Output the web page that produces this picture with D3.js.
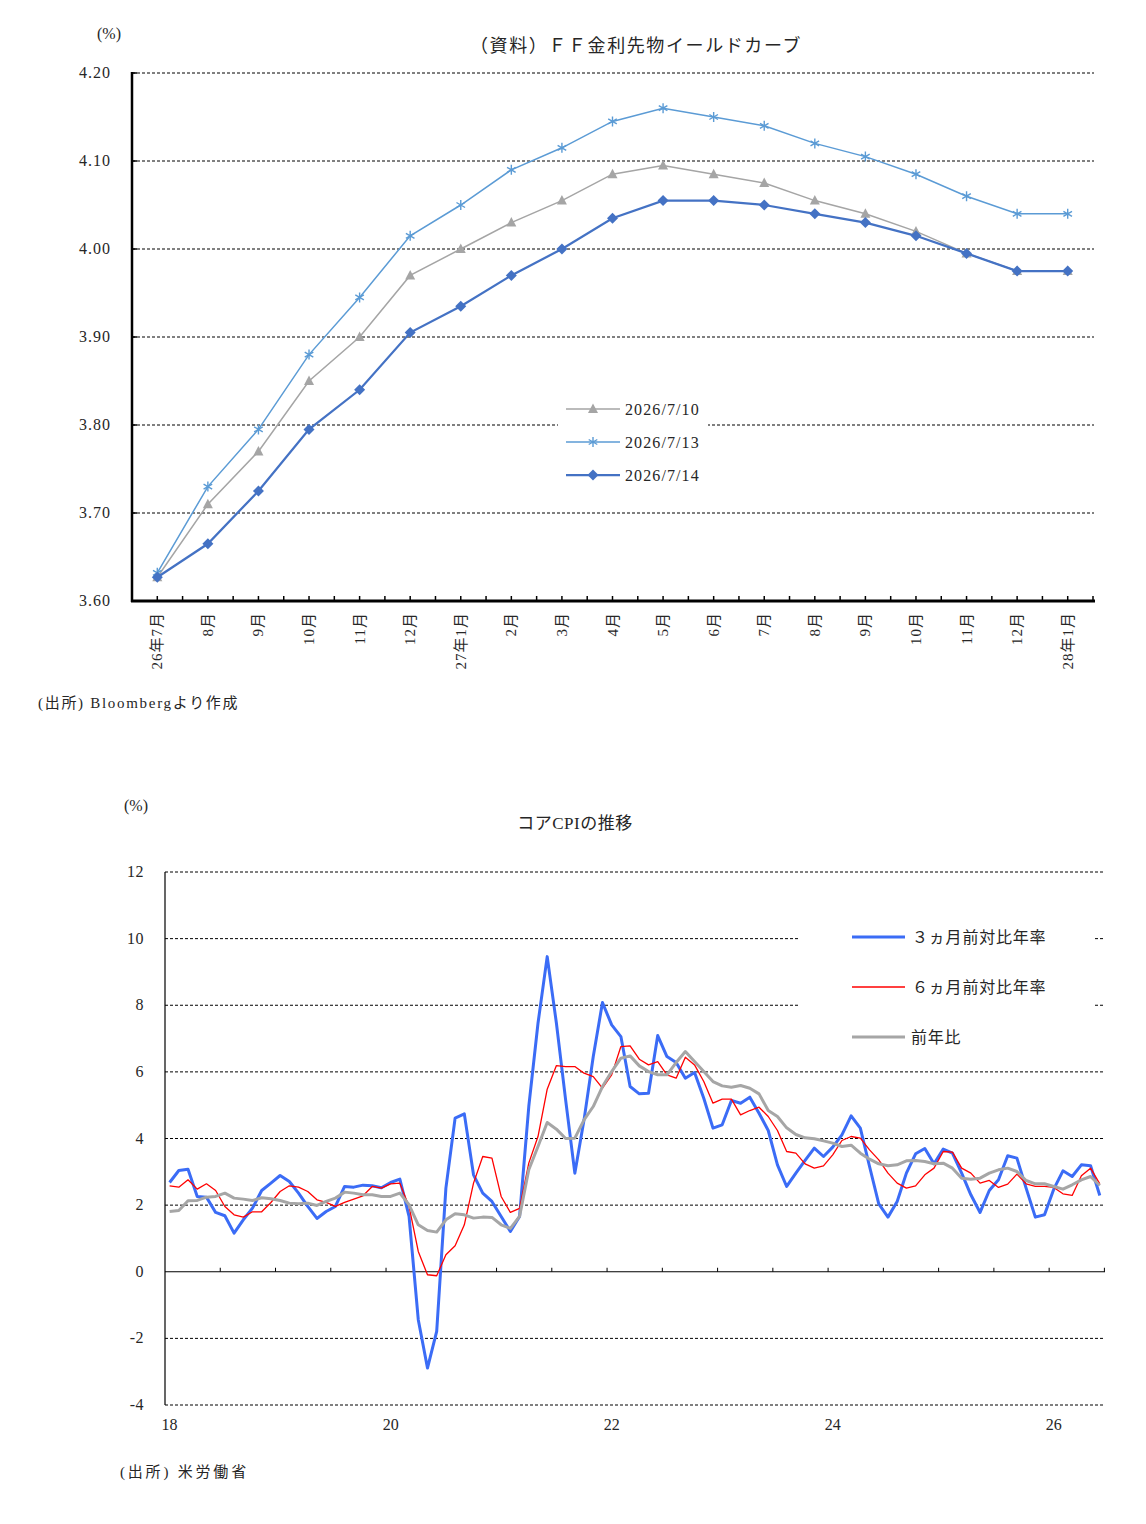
<!DOCTYPE html>
<html>
<head>
<meta charset="utf-8">
<script src="https://cdn.jsdelivr.net/npm/d3@7"></script>
<style>
  body { margin: 0; background: #fff; }
  text { font-family: "Liberation Serif", "Noto Sans CJK JP", serif; fill: #262626; }
</style>
</head>
<body>
<svg id="chart" width="1146" height="1524"></svg>
<script>
// ---- FF futures yield curve (top chart) ----
const futuresMonths = ["26年7月", "8月", "9月", "10月", "11月", "12月", "27年1月", "2月", "3月", "4月",
  "5月", "6月", "7月", "8月", "9月", "10月", "11月", "12月", "28年1月"];
const futures0710 = [3.627, 3.71, 3.77, 3.85, 3.90, 3.97, 4.00, 4.03, 4.055, 4.085,
  4.095, 4.085, 4.075, 4.055, 4.04, 4.02, 3.995, 3.975, 3.975];
const futures0713 = [3.632, 3.73, 3.795, 3.88, 3.945, 4.015, 4.05, 4.09, 4.115, 4.145,
  4.16, 4.15, 4.14, 4.12, 4.105, 4.085, 4.06, 4.04, 4.04];
const futures0714 = [3.627, 3.665, 3.725, 3.795, 3.84, 3.905, 3.935, 3.97, 4.00, 4.035,
  4.055, 4.055, 4.05, 4.04, 4.03, 4.015, 3.995, 3.975, 3.975];
const futuresTicks = [3.6, 3.7, 3.8, 3.9, 4.0, 4.1, 4.2];

// ---- Core CPI (bottom chart), monthly from 2018/01 ----
const cpiYearLabels = ["18", "20", "22", "24", "26"];
const cpi3m = [2.68, 3.04, 3.08, 2.26, 2.24, 1.78, 1.68, 1.16, 1.56, 1.91, 2.44, 2.66,
  2.89, 2.71, 2.36, 1.96, 1.6, 1.81, 1.96, 2.56, 2.54, 2.6, 2.58, 2.52,
  2.68, 2.78, 1.66, -1.44, -2.89, -1.79, 2.51, 4.61, 4.74, 2.91, 2.36, 2.11,
  1.66, 1.21, 1.66, 4.96, 7.46, 9.46, 7.46, 5.16, 2.96, 4.56, 6.46, 8.08,
  7.41, 7.06, 5.56, 5.34, 5.36, 7.09, 6.46, 6.28, 5.81, 5.98, 5.21, 4.31,
  4.41, 5.14, 5.06, 5.24, 4.76, 4.24, 3.21, 2.56, 2.96, 3.34, 3.71, 3.46,
  3.74, 4.11, 4.68, 4.31, 3.16, 2.04, 1.64, 2.11, 2.96, 3.54, 3.70, 3.24,
  3.68, 3.56, 2.96, 2.31, 1.78, 2.44, 2.76, 3.48, 3.41, 2.51, 1.64, 1.71,
  2.48, 3.03, 2.86, 3.21, 3.18, 2.29];
const cpi6m = [2.58, 2.54, 2.76, 2.48, 2.64, 2.44, 1.96, 1.71, 1.64, 1.8, 1.8, 2.08,
  2.41, 2.58, 2.54, 2.41, 2.16, 2.08, 1.96, 2.08, 2.18, 2.28, 2.56, 2.51,
  2.64, 2.66, 1.96, 0.61, -0.09, -0.12, 0.51, 0.78, 1.41, 2.66, 3.46, 3.41,
  2.26, 1.78, 1.9, 3.26, 4.06, 5.48, 6.19, 6.16, 6.16, 5.96, 5.86, 5.51,
  5.91, 6.76, 6.78, 6.38, 6.21, 6.31, 5.91, 5.81, 6.44, 6.21, 5.71, 5.06,
  5.18, 5.18, 4.71, 4.84, 4.94, 4.66, 4.24, 3.61, 3.56, 3.24, 3.11, 3.18,
  3.51, 3.94, 4.06, 4.01, 3.66, 3.36, 2.96, 2.66, 2.51, 2.58, 2.91, 3.11,
  3.61, 3.59, 3.11, 2.96, 2.66, 2.74, 2.53, 2.63, 2.93, 2.64, 2.56, 2.56,
  2.53, 2.34, 2.29, 2.88, 3.11, 2.64];
const cpiYoY = [1.81, 1.84, 2.13, 2.14, 2.24, 2.26, 2.36, 2.21, 2.18, 2.14, 2.22, 2.19,
  2.14, 2.06, 2.04, 2.06, 1.99, 2.11, 2.21, 2.39, 2.36, 2.31, 2.31, 2.26,
  2.26, 2.36, 2.01, 1.41, 1.24, 1.19, 1.56, 1.74, 1.71, 1.61, 1.64, 1.63,
  1.41, 1.3, 1.66, 3.06, 3.76, 4.48, 4.28, 4.0, 4.01, 4.56, 4.96, 5.56,
  6.01, 6.41, 6.48, 6.18, 6.01, 5.91, 5.91, 6.28, 6.61, 6.31, 6.01, 5.71,
  5.58, 5.54, 5.59, 5.51, 5.34, 4.84, 4.66, 4.32, 4.12, 4.02, 3.99, 3.93,
  3.86, 3.76, 3.8, 3.56, 3.38, 3.24, 3.18, 3.21, 3.33, 3.34, 3.31, 3.24,
  3.26, 3.11, 2.81, 2.78, 2.81, 2.96, 3.06, 3.11, 3.01, 2.74, 2.64, 2.64,
  2.56, 2.48, 2.61, 2.76, 2.86, 2.59];
const cpiTicks = [-4, -2, 0, 2, 4, 6, 8, 10, 12];

const svg = d3.select("#chart");
svg.append("rect").attr("width", 1146).attr("height", 1524).attr("fill", "#fff");

// =========================================================
// Top chart
// =========================================================
function drawFutures() {
  const g = svg.append("g");
  const x = d3.scaleBand().domain(d3.range(futuresMonths.length)).range([132, 1093]);
  const y = d3.scaleLinear().domain([3.6, 4.2]).range([601, 73]);
  const cx = (i) => x(i) + x.bandwidth() / 2;

  // dashed gridlines
  g.selectAll(".grid")
    .data(futuresTicks.filter((d) => d > 3.6))
    .join("line")
    .attr("x1", 132).attr("x2", 1094)
    .attr("y1", (d) => y(d)).attr("y2", (d) => y(d))
    .attr("stroke", "#000").attr("stroke-width", 1)
    .attr("stroke-dasharray", "3,2");

  // y tick labels
  g.selectAll(".ylab")
    .data(futuresTicks)
    .join("text")
    .attr("x", 111).attr("y", (d) => y(d) + 5)
    .attr("text-anchor", "end")
    .attr("font-size", 16)
    .attr("letter-spacing", 1)
    .text((d) => d3.format(".2f")(d));

  // inward y ticks
  g.selectAll(".ytick")
    .data(futuresTicks)
    .join("line")
    .attr("x1", 132).attr("x2", 137)
    .attr("y1", (d) => y(d)).attr("y2", (d) => y(d))
    .attr("stroke", "#000").attr("stroke-width", 1.5);

  // axes
  g.append("line").attr("x1", 132).attr("x2", 132).attr("y1", 72).attr("y2", 602)
    .attr("stroke", "#000").attr("stroke-width", 2.5);
  g.append("line").attr("x1", 131).attr("x2", 1095).attr("y1", 601).attr("y2", 601)
    .attr("stroke", "#000").attr("stroke-width", 3);

  // x ticks at every half month
  const half = x.bandwidth() / 2;
  g.selectAll(".xtick")
    .data(d3.range(1, futuresMonths.length * 2 + 1))
    .join("line")
    .attr("x1", (k) => 132 + k * half).attr("x2", (k) => 132 + k * half)
    .attr("y1", 596).attr("y2", 601)
    .attr("stroke", "#000").attr("stroke-width", 1.5);

  // rotated month labels
  g.selectAll(".xlab")
    .data(futuresMonths)
    .join("text")
    .attr("transform", (d, i) => `translate(${cx(i) + 5},612) rotate(-90)`)
    .attr("text-anchor", "end")
    .attr("font-size", 15)
    .attr("letter-spacing", 1)
    .text((d) => d);

  const line = d3.line().x((d, i) => cx(i)).y((d) => y(d));

  const series = [
    { name: "2026/7/10", values: futures0710, color: "#a5a5a5", width: 1.5, marker: "tri" },
    { name: "2026/7/13", values: futures0713, color: "#5b9bd5", width: 1.5, marker: "star" },
    { name: "2026/7/14", values: futures0714, color: "#4472c4", width: 2.25, marker: "dia" },
  ];

  const markerPath = {
    tri: "M0,-5.5L5,4L-5,4Z",
    dia: "M0,-5.5L5.5,0L0,5.5L-5.5,0Z",
    star: "M0,-5V5M-4.3,-2.5L4.3,2.5M-4.3,2.5L4.3,-2.5",
  };

  function drawMarker(sel, s, px, py) {
    const p = sel.append("path")
      .attr("transform", `translate(${px},${py})`)
      .attr("d", markerPath[s.marker]);
    if (s.marker === "star") {
      p.attr("fill", "none").attr("stroke", s.color).attr("stroke-width", 1.4);
    } else {
      p.attr("fill", s.color);
    }
  }

  series.forEach((s) => {
    g.append("path")
      .datum(s.values)
      .attr("d", line)
      .attr("fill", "none")
      .attr("stroke", s.color)
      .attr("stroke-width", s.width);
    s.values.forEach((v, i) => drawMarker(g, s, cx(i), y(v)));
  });

  // legend
  g.append("rect").attr("x", 558).attr("y", 395).attr("width", 150).attr("height", 95).attr("fill", "#fff");
  series.forEach((s, i) => {
    const ly = 409 + i * 33;
    g.append("line").attr("x1", 566).attr("x2", 620).attr("y1", ly).attr("y2", ly)
      .attr("stroke", s.color).attr("stroke-width", s.width);
    drawMarker(g, s, 593, ly);
    g.append("text").attr("x", 625).attr("y", ly + 6)
      .attr("font-size", 16).attr("letter-spacing", 1.1).text(s.name);
  });

  // titles
  g.append("text").attr("x", 109).attr("y", 39).attr("text-anchor", "middle")
    .attr("font-size", 16).text("(%)");
  g.append("text").attr("x", 636).attr("y", 52).attr("text-anchor", "middle")
    .attr("font-size", 18).attr("letter-spacing", 1.6)
    .text("（資料）ＦＦ金利先物イールドカーブ");
  g.append("text").attr("x", 38).attr("y", 708).attr("font-size", 15).attr("letter-spacing", 1.7)
    .text("(出所) Bloombergより作成");
}

// =========================================================
// Bottom chart
// =========================================================
function drawCpi() {
  const g = svg.append("g");
  const x = d3.scaleBand().domain(d3.range(cpi3m.length)).range([165, 1104.4]);
  const y = d3.scaleLinear().domain([-4, 12]).range([1405, 872]);
  const cx = (i) => x(i) + x.bandwidth() / 2;

  // dashed gridlines
  g.selectAll(".grid")
    .data(cpiTicks.filter((d) => d !== 0))
    .join("line")
    .attr("x1", 165).attr("x2", 1105)
    .attr("y1", (d) => y(d)).attr("y2", (d) => y(d))
    .attr("stroke", "#000").attr("stroke-width", 1)
    .attr("stroke-dasharray", "3,2");

  // zero line and left axis
  g.append("line").attr("x1", 165).attr("x2", 1105).attr("y1", y(0)).attr("y2", y(0))
    .attr("stroke", "#000").attr("stroke-width", 1.2);
  g.append("line").attr("x1", 165).attr("x2", 165).attr("y1", 872).attr("y2", 1405)
    .attr("stroke", "#000").attr("stroke-width", 1.2);

  // ticks every six months on the zero line
  g.selectAll(".xtick")
    .data(d3.range(6, cpi3m.length + 1, 6))
    .join("line")
    .attr("x1", (k) => 165 + k * x.step()).attr("x2", (k) => 165 + k * x.step())
    .attr("y1", y(0) - 4).attr("y2", y(0))
    .attr("stroke", "#000").attr("stroke-width", 1);

  // y labels
  g.selectAll(".ylab")
    .data(cpiTicks)
    .join("text")
    .attr("x", 144).attr("y", (d) => y(d) + 5)
    .attr("text-anchor", "end")
    .attr("font-size", 16)
    .attr("letter-spacing", 0.5)
    .text((d) => d);

  // x labels (every 24 months)
  g.selectAll(".xlab")
    .data(cpiYearLabels)
    .join("text")
    .attr("x", (d, i) => cx(i * 24))
    .attr("y", 1430)
    .attr("text-anchor", "middle")
    .attr("font-size", 16)
    .text((d) => d);

  const line = d3.line().x((d, i) => cx(i)).y((d) => y(d));

  const series = [
    { name: "３ヵ月前対比年率", values: cpi3m, color: "#3b6cf6", width: 3 },
    { name: "６ヵ月前対比年率", values: cpi6m, color: "#ff0000", width: 1.3 },
    { name: "前年比", values: cpiYoY, color: "#a6a6a6", width: 3 },
  ];

  // legend background covers gridlines
  g.append("rect").attr("x", 800).attr("y", 912).attr("width", 293).attr("height", 148).attr("fill", "#fff");

  series.forEach((s) => {
    g.append("path")
      .datum(s.values)
      .attr("d", line)
      .attr("fill", "none")
      .attr("stroke", s.color)
      .attr("stroke-width", s.width)
      .attr("stroke-linejoin", "round");
  });

  series.forEach((s, i) => {
    const ly = 937 + i * 50;
    g.append("line").attr("x1", 852).attr("x2", 905).attr("y1", ly).attr("y2", ly)
      .attr("stroke", s.color).attr("stroke-width", s.width);
    g.append("text").attr("x", i < 2 ? 912 : 911).attr("y", ly + 6)
      .attr("font-size", 16).attr("letter-spacing", 0.8).text(s.name);
  });

  g.append("text").attr("x", 136).attr("y", 811).attr("text-anchor", "middle")
    .attr("font-size", 16).text("(%)");
  g.append("text").attr("x", 575).attr("y", 829).attr("text-anchor", "middle")
    .attr("font-size", 17).attr("letter-spacing", 0.5).text("コアCPIの推移");
  g.append("text").attr("x", 120).attr("y", 1477).attr("font-size", 15).attr("letter-spacing", 2.8)
    .text("(出所) 米労働省");
}

drawFutures();
drawCpi();
</script>
</body>
</html>
